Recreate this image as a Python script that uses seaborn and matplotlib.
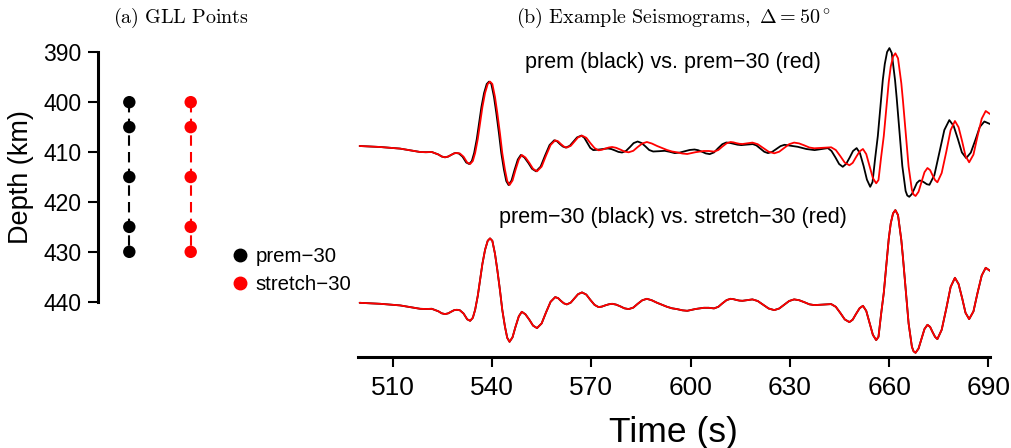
import matplotlib
matplotlib.use("Agg")
import matplotlib.pyplot as plt
import seaborn as sns
import pandas as pd
from matplotlib.lines import Line2D

# ---------------- data ----------------
gll_labels = ["prem\u221230", "stretch\u221230"]
gll_prem_depth = [400, 405, 415, 425, 430]
gll_stretch_depth = [400, 405, 415, 425, 430]
depth_ticks = [390, 400, 410, 420, 430, 440]
time_ticks = [510, 540, 570, 600, 630, 660, 690]

# prem-30 seismogram (arbitrary amplitude units)
prem30_t = [500.0, 506.2, 512.2, 515.2, 518.3, 520.0, 521.8, 523.8, 524.8, 525.8,
            526.8, 527.6, 528.6, 529.4, 530.3, 531.4, 532.5, 533.4, 534.2, 534.9,
            535.7, 536.4, 537.1, 537.9, 538.7, 539.4, 540.1, 540.9, 541.6, 542.4,
            543.1, 543.9, 544.6, 545.3, 546.2, 547.1, 548.1, 549.0, 550.1, 551.3,
            552.4, 553.6, 555.0, 556.3, 557.7, 559.1, 560.0, 560.8, 561.7, 562.6,
            563.8, 564.9, 566.0, 567.2, 568.5, 569.7, 571.0, 572.2, 573.2, 574.2,
            575.3, 576.3, 577.5, 578.8, 580.0, 581.3, 582.7, 584.0, 585.4, 586.8,
            588.3, 589.9, 591.4, 592.9, 594.4, 595.9, 597.5, 599.0, 601.5, 604.0,
            605.5, 607.1, 608.4, 609.6, 610.9, 612.1, 613.0, 613.9, 614.8, 615.7,
            617.2, 618.7, 620.3, 622.0, 623.6, 625.3, 626.8, 628.3, 629.8, 631.3,
            632.8, 634.4, 635.9, 637.4, 640.0, 642.5, 643.9, 645.3, 646.6, 648.0,
            649.0, 650.0, 651.1, 652.1, 653.1, 654.1, 655.1, 656.1, 656.8, 657.6,
            658.4, 659.2, 659.9, 660.5, 661.2, 661.9, 662.7, 663.7, 664.2, 664.7,
            665.3, 665.9, 666.9, 667.4, 668.0, 668.9, 669.8, 670.7, 671.6, 672.4,
            673.1, 673.9, 674.6, 675.9, 677.3, 678.6, 679.9, 681.0, 682.1, 683.1,
            684.2, 685.5, 686.7, 688.0, 689.2, 690.5]
prem30_amp = [0.00, -0.01, -0.026, -0.043, -0.06, -0.062, -0.06, -0.085, -0.105, -0.113,
              -0.105, -0.09, -0.073, -0.07, -0.075, -0.107, -0.165, -0.18, -0.15, -0.07,
              0.07, 0.232, 0.39, 0.53, 0.62, 0.644, 0.62, 0.49, 0.33, 0.127,
              -0.07, -0.236, -0.35, -0.39, -0.345, -0.24, -0.135, -0.09, -0.115, -0.17,
              -0.228, -0.253, -0.206, -0.098, 0.01, 0.057, 0.046, 0.02, -0.005, -0.016,
              0.002, 0.044, 0.086, 0.104, 0.082, 0.03, -0.021, -0.043, -0.038, -0.026,
              -0.015, -0.01, -0.018, -0.036, -0.055, -0.063, -0.048, -0.011, 0.025, 0.04,
              0.025, 0.0, -0.02, -0.04, -0.055, -0.063, -0.075, -0.08, -0.062, -0.05,
              -0.05, -0.056, -0.04, -0.006, 0.027, 0.04, 0.036, 0.028, 0.022, 0.02,
              0.027, 0.034, 0.018, -0.02, -0.057, -0.073, -0.057, -0.02, 0.018, 0.034,
              0.026, 0.006, -0.015, -0.023, -0.018, -0.013, -0.04, -0.103, -0.166, -0.193,
              -0.169, -0.112, -0.054, -0.03, -0.081, -0.2, -0.32, -0.373, -0.34, -0.11,
              0.1, 0.394, 0.64, 0.794, 0.894, 0.927, 0.877, 0.627, 0.45, 0.26,
              0.03, -0.206, -0.44, -0.485, -0.5, -0.458, -0.36, -0.262, -0.22, -0.241,
              -0.29, -0.341, -0.363, -0.27, -0.056, 0.158, 0.25, 0.188, 0.044, -0.1,
              -0.163, -0.086, 0.094, 0.273, 0.35, 0.32]

# stretch-30 seismogram (indistinguishable from prem-30 at this scale)
stretch30_t = [500.0, 506.2, 512.2, 515.2, 518.3, 520.0, 521.8, 523.8, 524.8, 525.8,
               526.8, 527.6, 528.6, 529.4, 530.3, 531.4, 532.5, 533.4, 534.2, 534.9,
               535.7, 536.4, 537.1, 537.9, 538.7, 539.4, 540.1, 540.9, 541.6, 542.4,
               543.1, 543.9, 544.6, 545.3, 546.2, 547.1, 548.1, 549.0, 550.1, 551.3,
               552.4, 553.6, 555.0, 556.3, 557.7, 559.1, 560.0, 560.8, 561.7, 562.6,
               563.8, 564.9, 566.0, 567.2, 568.5, 569.7, 571.0, 572.2, 573.2, 574.2,
               575.3, 576.3, 577.5, 578.8, 580.0, 581.3, 582.7, 584.0, 585.4, 586.8,
               588.3, 589.9, 591.4, 592.9, 594.4, 595.9, 597.5, 599.0, 601.5, 604.0,
               605.5, 607.1, 608.4, 609.6, 610.9, 612.1, 613.0, 613.9, 614.8, 615.7,
               617.2, 618.7, 620.3, 622.0, 623.6, 625.3, 626.8, 628.3, 629.8, 631.3,
               632.8, 634.4, 635.9, 637.4, 640.0, 642.5, 643.9, 645.3, 646.6, 648.0,
               649.0, 650.0, 651.1, 652.1, 653.1, 654.1, 655.1, 656.1, 656.8, 657.6,
               658.4, 659.2, 659.9, 660.5, 661.2, 661.9, 662.7, 663.7, 664.2, 664.7,
               665.3, 665.9, 666.9, 667.4, 668.0, 668.9, 669.8, 670.7, 671.6, 672.4,
               673.1, 673.9, 674.6, 675.9, 677.3, 678.6, 679.9, 681.0, 682.1, 683.1,
               684.2, 685.5, 686.7, 688.0, 689.2, 690.5]
stretch30_amp = [0.00, -0.01, -0.026, -0.043, -0.06, -0.062, -0.06, -0.085, -0.105, -0.113,
                 -0.105, -0.09, -0.073, -0.07, -0.075, -0.107, -0.165, -0.18, -0.15, -0.07,
                 0.07, 0.232, 0.39, 0.53, 0.62, 0.644, 0.62, 0.49, 0.33, 0.127,
                 -0.07, -0.236, -0.35, -0.39, -0.345, -0.24, -0.135, -0.09, -0.115, -0.17,
                 -0.228, -0.253, -0.206, -0.098, 0.01, 0.057, 0.046, 0.02, -0.005, -0.016,
                 0.002, 0.044, 0.086, 0.104, 0.082, 0.03, -0.021, -0.043, -0.038, -0.026,
                 -0.015, -0.01, -0.018, -0.036, -0.055, -0.063, -0.048, -0.011, 0.025, 0.04,
                 0.025, 0.0, -0.02, -0.04, -0.055, -0.063, -0.075, -0.08, -0.062, -0.05,
                 -0.05, -0.056, -0.04, -0.006, 0.027, 0.04, 0.036, 0.028, 0.022, 0.02,
                 0.027, 0.034, 0.018, -0.02, -0.057, -0.073, -0.057, -0.02, 0.018, 0.034,
                 0.026, 0.006, -0.015, -0.023, -0.018, -0.013, -0.04, -0.103, -0.166, -0.193,
                 -0.169, -0.112, -0.054, -0.03, -0.081, -0.2, -0.32, -0.373, -0.34, -0.11,
                 0.1, 0.394, 0.64, 0.794, 0.894, 0.927, 0.877, 0.627, 0.45, 0.26,
                 0.03, -0.206, -0.44, -0.485, -0.5, -0.458, -0.36, -0.262, -0.22, -0.241,
                 -0.29, -0.341, -0.363, -0.27, -0.056, 0.158, 0.25, 0.188, 0.044, -0.1,
                 -0.163, -0.086, 0.094, 0.273, 0.35, 0.32]

# prem seismogram
prem_t = [500.0, 506.2, 512.2, 515.2, 518.3, 520.0, 521.8, 523.8, 524.8, 525.8,
          526.8, 527.6, 528.6, 529.1, 530.0, 531.1, 532.2, 533.1, 533.9, 534.6,
          535.4, 536.1, 536.8, 537.6, 538.4, 539.1, 539.8, 540.6, 541.3, 542.1,
          542.8, 543.6, 544.3, 545.0, 545.9, 546.8, 547.8, 548.7, 549.8, 551.0,
          552.1, 553.3, 554.7, 556.0, 557.4, 558.8, 559.7, 560.5, 561.4, 562.3,
          563.5, 564.6, 565.7, 567.0, 567.9, 568.8, 569.7, 570.6, 571.7, 572.9,
          574.0, 575.1, 576.1, 577.2, 578.2, 579.3, 580.5, 581.7, 582.8, 584.0,
          585.2, 586.4, 587.5, 588.7, 590.5, 592.2, 593.7, 595.2, 596.7, 598.2,
          599.7, 601.2, 602.3, 603.5, 604.6, 605.8, 607.1, 608.3, 609.6, 610.8,
          611.9, 613.1, 614.2, 615.3, 617.0, 618.8, 619.9, 621.1, 622.3, 623.4,
          624.7, 625.9, 627.2, 628.4, 630.4, 632.4, 635.0, 637.5, 639.5, 641.5,
          642.6, 643.8, 644.9, 646.0, 647.0, 648.1, 649.1, 650.2, 651.2, 652.3,
          653.3, 654.3, 655.0, 655.8, 656.6, 657.4, 658.1, 658.7, 659.4, 660.1,
          660.8, 661.8, 662.3, 662.8, 663.4, 664.0, 665.0, 665.5, 666.1, 666.9,
          667.6, 668.4, 669.2, 669.9, 670.7, 671.4, 672.2, 673.7, 675.2, 676.7,
          678.2, 679.5, 680.8, 682.0, 683.3, 684.7, 686.1, 687.4, 688.8, 690.5]
prem_amp = [0.00, -0.01, -0.026, -0.043, -0.06, -0.062, -0.06, -0.085, -0.105, -0.113,
            -0.105, -0.09, -0.073, -0.07, -0.075, -0.107, -0.165, -0.18, -0.15, -0.07,
            0.07, 0.232, 0.39, 0.53, 0.62, 0.644, 0.62, 0.49, 0.33, 0.127,
            -0.07, -0.236, -0.35, -0.39, -0.345, -0.24, -0.135, -0.09, -0.115, -0.17,
            -0.228, -0.253, -0.206, -0.098, 0.01, 0.057, 0.046, 0.02, -0.005, -0.016,
            0.002, 0.044, 0.086, 0.104, 0.082, 0.032, -0.019, -0.041, -0.038, -0.033,
            -0.028, -0.025, -0.031, -0.045, -0.059, -0.065, -0.049, -0.01, 0.029, 0.045,
            0.03, -0.005, -0.04, -0.055, -0.052, -0.048, -0.058, -0.071, -0.066, -0.053,
            -0.04, -0.035, -0.042, -0.058, -0.074, -0.081, -0.064, -0.023, 0.018, 0.035,
            0.031, 0.022, 0.013, 0.009, 0.014, 0.019, 0.006, -0.026, -0.058, -0.071,
            -0.058, -0.03, -0.001, 0.012, 0.002, -0.008, -0.03, -0.041, -0.031, -0.021,
            -0.05, -0.115, -0.18, -0.208, -0.18, -0.115, -0.05, -0.021, -0.072, -0.2,
            -0.336, -0.408, -0.36, -0.12, 0.1, 0.40, 0.66, 0.82, 0.94, 0.979,
            0.93, 0.66, 0.48, 0.28, 0.04, -0.2, -0.45, -0.495, -0.508, -0.48,
            -0.43, -0.37, -0.345, -0.35, -0.366, -0.382, -0.388, -0.29, -0.065, 0.16,
            0.259, 0.202, 0.069, -0.064, -0.121, -0.066, 0.062, 0.19, 0.245, 0.22]

# ---------------- style ----------------
sns.set_theme(style="white")
plt.rcParams["font.family"] = ["Liberation Sans", "DejaVu Sans"]
plt.rcParams["mathtext.fontset"] = "cm"
for k in ["text.color", "axes.labelcolor", "xtick.color", "ytick.color", "axes.edgecolor"]:
    plt.rcParams[k] = "black"

W, H = 1011, 448
fig = plt.figure(figsize=(W / 100, H / 100), dpi=100)


def ax_px(l, t, r, b):
    return fig.add_axes([l / W, 1 - b / H, (r - l) / W, (b - t) / H])


# ---------------- panel (a) ----------------
axL = ax_px(98, 52.3, 264, 301.7)
colors = ["black", "red"]
for xpos, depths, col in zip([1, 2], [gll_prem_depth, gll_stretch_depth], colors):
    d = pd.DataFrame({"x": [xpos] * len(depths), "depth": depths})
    sns.lineplot(data=d, x="x", y="depth", sort=False, estimator=None, color=col,
                 lw=1.5, linestyle=(0, (5, 3)), ax=axL)
    sns.scatterplot(data=d, x="x", y="depth", color=col, s=80, edgecolor="none",
                    ax=axL, zorder=3)
axL.set_xlim(0.49, 3.194)
axL.set_ylim(440, 390)
axL.set_yticks(depth_ticks)
axL.set_xticks([])
axL.set_xlabel("")
axL.set_ylabel("Depth (km)", fontsize=19.5)
axL.yaxis.set_label_coords(-0.385, 0.5)
for s in ["top", "right", "bottom"]:
    axL.spines[s].set_visible(False)
axL.spines["left"].set_linewidth(2.2)
axL.tick_params(axis="y", left=True, length=7, width=1.5, labelsize=16.5, pad=5)
axL.patch.set_alpha(0)

handles = [Line2D([], [], marker="o", ls="none", color=c, markersize=9) for c in colors]
fig.legend(handles, gll_labels, loc="center left", bbox_to_anchor=(222 / W, 1 - 270.5 / H),
           frameon=False, fontsize=14.7, handlelength=0.8, handletextpad=0.35,
           labelspacing=0.45, borderpad=0)

# ---------------- panel (b) ----------------
axR = ax_px(358, 40, 990, 356.5)
top_off = 2.105
bot_off = 0.537
lkw = dict(lw=1.3, sort=False, estimator=None, ax=axR, solid_joinstyle="round",
           solid_capstyle="round")
sns.lineplot(x=prem_t, y=[a + top_off for a in prem_amp], color="black", **lkw)
sns.lineplot(x=prem30_t, y=[a + top_off for a in prem30_amp], color="red", **lkw)
sns.lineplot(x=prem30_t, y=[a + bot_off for a in prem30_amp], color="black", **lkw)
sns.lineplot(x=stretch30_t, y=[a + bot_off for a in stretch30_amp], color="red", **lkw)
axR.set_xlim(499.5, 690.5)
axR.set_ylim(0, 3.165)
axR.set_xticks(time_ticks)
axR.set_yticks([])
axR.set_xlabel("Time (s)", fontsize=25.5)
axR.xaxis.set_label_coords(0.499, -0.188)
for s in ["top", "right", "left"]:
    axR.spines[s].set_visible(False)
axR.spines["bottom"].set_linewidth(2.2)
axR.tick_params(axis="x", bottom=True, length=7, width=1.5, labelsize=19, pad=7)
axR.patch.set_alpha(0)

fig.text(673 / W, 1 - 62 / H, "prem (black) vs. prem\u221230 (red)", fontsize=15.5,
         ha="center", va="center")
fig.text(673 / W, 1 - 218 / H, "prem\u221230 (black) vs. stretch\u221230 (red)", fontsize=15.5,
         ha="center", va="center")

# ---------------- titles ----------------
fig.text(181 / W, 1 - 18 / H, r"$\mathrm{(a)\ GLL\ Points}$", fontsize=14.5,
         ha="center", va="center")
fig.text(673 / W, 1 - 18 / H, r"$\mathrm{(b)\ Example\ Seismograms,}\ \Delta = 50^\circ$",
         fontsize=14.5, ha="center", va="center")

fig.savefig("out.png", dpi=100)
